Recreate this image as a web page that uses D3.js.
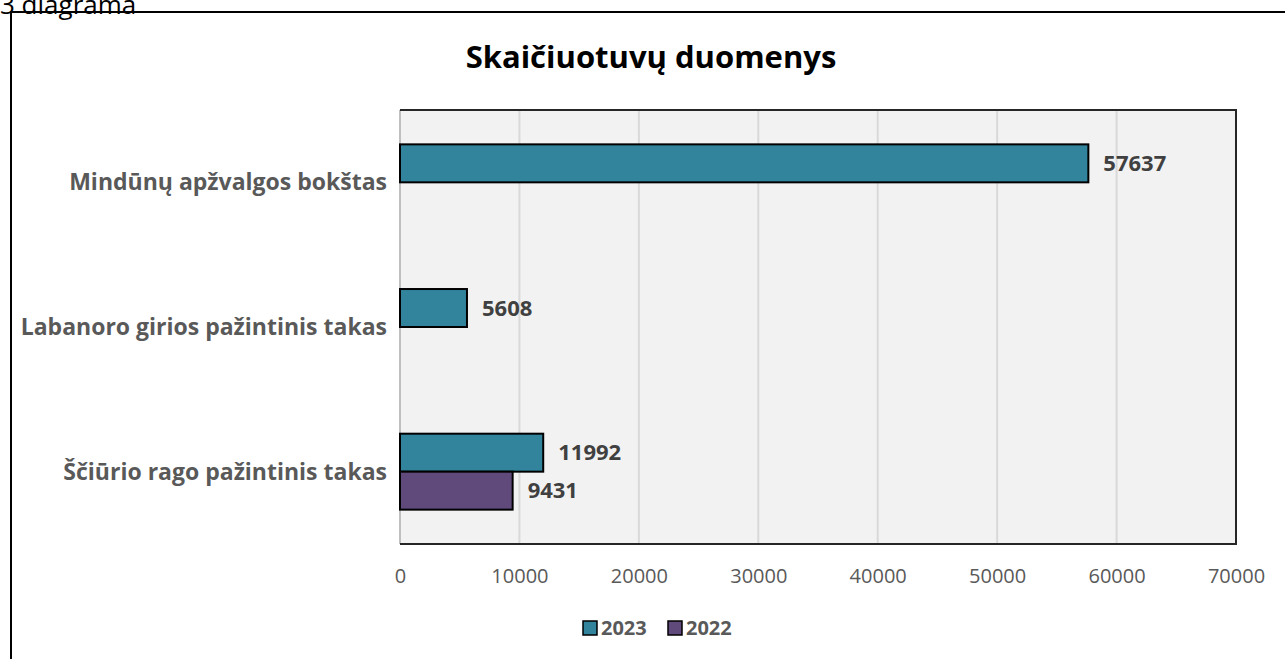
<!DOCTYPE html>
<html>
<head>
<meta charset="utf-8">
<script src="https://cdn.jsdelivr.net/npm/d3@7"></script>
<style>
  body { margin: 0; background: #fff; }
  svg { display: block; font-family: "Open Sans", sans-serif; }
</style>
</head>
<body>
<div id="chart"></div>
<script>
var width = 1285,
    height = 659;

// data
var categories = ["Mindūnų apžvalgos bokštas", "Labanoro girios pažintinis takas", "Ščiūrio rago pažintinis takas"];
var seriesNames = ["2023", "2022"];
var values2023 = [57637, 5608, 11992];
var values2022 = [null, null, 9431];
var xTicks = [0, 10000, 20000, 30000, 40000, 50000, 60000, 70000];
var colors = ["#31849B", "#604A7B"];

var margin = { top: 110, right: 49, bottom: 115, left: 400 };
var plotW = width - margin.left - margin.right,
    plotH = height - margin.top - margin.bottom;

var svg = d3.select("#chart")
    .append("svg")
    .attr("width", width)
    .attr("height", height);

// caption above frame (cut off at top, as in the source)
svg.append("text")
    .attr("x", 0)
    .attr("y", 14)
    .style("font-size", "26px")
    .style("fill", "#000")
    .text("3 diagrama");

// outer frame
svg.append("rect")
    .attr("x", 11)
    .attr("y", 12)
    .attr("width", width + 20)
    .attr("height", height + 20)
    .attr("fill", "none")
    .attr("stroke", "#000")
    .attr("stroke-width", 2);

// title
svg.append("text")
    .attr("x", 651)
    .attr("y", 68)
    .attr("text-anchor", "middle")
    .style("font-size", "31px")
    .style("font-weight", "bold")
    .style("fill", "#000")
    .text("Skaičiuotuvų duomenys");

var x = d3.scaleLinear()
    .domain([0, 70000])
    .range([0, plotW]);

var y = d3.scaleBand()
    .domain(categories)
    .range([0, plotH])
    .paddingInner(0.475)
    .paddingOuter(0.2375);

var ySub = d3.scaleBand()
    .domain(seriesNames)
    .range([0, y.bandwidth()]);

var g = svg.append("g")
    .attr("transform", "translate(" + margin.left + "," + margin.top + ")");

// plot background
g.append("rect")
    .attr("width", plotW)
    .attr("height", plotH)
    .attr("fill", "#F2F2F2");

// gridlines
g.append("g")
    .selectAll("line")
    .data(xTicks.slice(1))
    .enter()
    .append("line")
    .attr("x1", function (d) { return x(d); })
    .attr("x2", function (d) { return x(d); })
    .attr("y1", 0)
    .attr("y2", plotH)
    .attr("stroke", "#D9D9D9")
    .attr("stroke-width", 2);

// left axis line
g.append("line")
    .attr("x1", 0).attr("x2", 0)
    .attr("y1", 0).attr("y2", plotH)
    .attr("stroke", "#BFBFBF")
    .attr("stroke-width", 2);

// plot border (top, right, bottom)
g.append("path")
    .attr("d", "M0,0H" + plotW + "V" + plotH + "H0")
    .attr("fill", "none")
    .attr("stroke", "#262626")
    .attr("stroke-width", 2);

// bars
var rows = [];
categories.forEach(function (c, i) {
    rows.push({ cat: c, series: "2023", value: values2023[i], color: colors[0] });
    rows.push({ cat: c, series: "2022", value: values2022[i], color: colors[1] });
});
rows = rows.filter(function (d) { return d.value != null; });

g.selectAll(".bar")
    .data(rows)
    .enter()
    .append("rect")
    .attr("class", "bar")
    .attr("x", 0)
    .attr("y", function (d) { return y(d.cat) + ySub(d.series); })
    .attr("width", function (d) { return x(d.value); })
    .attr("height", ySub.bandwidth())
    .attr("fill", function (d) { return d.color; })
    .attr("stroke", "#000")
    .attr("stroke-width", 2);

// value labels
g.selectAll(".val")
    .data(rows)
    .enter()
    .append("text")
    .attr("class", "val")
    .attr("x", function (d) { return x(d.value) + 15; })
    .attr("y", function (d) { return y(d.cat) + ySub(d.series) + ySub.bandwidth() / 2; })
    .attr("dy", "0.35em")
    .style("font-size", "22px")
    .style("font-weight", "bold")
    .style("fill", "#404040")
    .text(function (d) { return d.value; });

// category labels
g.selectAll(".cat")
    .data(categories)
    .enter()
    .append("text")
    .attr("class", "cat")
    .attr("x", -13)
    .attr("y", function (d) { return y(d) + y.bandwidth() / 2; })
    .attr("dy", "0.35em")
    .attr("text-anchor", "end")
    .style("font-size", "23px")
    .style("font-weight", "bold")
    .style("fill", "#595959")
    .text(function (d) { return d; });

// x axis tick labels
var xAxis = d3.axisBottom(x)
    .tickValues(xTicks)
    .tickSize(0)
    .tickPadding(25)
    .tickFormat(d3.format("d"));

var ax = g.append("g")
    .attr("transform", "translate(0," + plotH + ")")
    .call(xAxis);
ax.select(".domain").remove();
ax.selectAll("text")
    .style("font-family", "Open Sans, sans-serif")
    .style("font-size", "20px")
    .style("fill", "#595959");

// legend
var legend = svg.append("g")
    .attr("transform", "translate(583,621)");

var items = legend.selectAll(".item")
    .data(seriesNames)
    .enter()
    .append("g")
    .attr("class", "item")
    .attr("transform", function (d, i) { return "translate(" + (i * 85) + ",0)"; });

items.append("rect")
    .attr("width", 14)
    .attr("height", 14)
    .attr("fill", function (d, i) { return colors[i]; })
    .attr("stroke", "#000")
    .attr("stroke-width", 1.5);

items.append("text")
    .attr("x", 18)
    .attr("y", 7)
    .attr("dy", "0.35em")
    .style("font-size", "20px")
    .style("font-weight", "bold")
    .style("fill", "#595959")
    .text(function (d) { return d; });
</script>
</body>
</html>
